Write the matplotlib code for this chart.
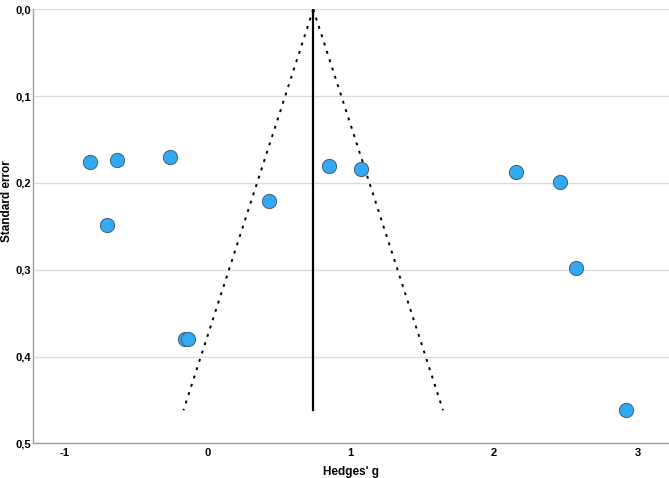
import matplotlib.pyplot as plt
from matplotlib.ticker import FuncFormatter

# study effect sizes (Hedges' g) and their standard errors
hedges_g = [-0.82, -0.63, -0.26, -0.70, -0.155, -0.135, 0.43, 0.846, 1.073,
            2.155, 2.458, 2.569, 2.922]
std_err = [0.176, 0.174, 0.170, 0.249, 0.380, 0.380, 0.221, 0.180, 0.184,
           0.188, 0.199, 0.298, 0.462]

pooled_g = 0.738
se_max = 0.462
x_ticks = [-1, 0, 1, 2, 3]
y_ticks = [0.0, 0.1, 0.2, 0.3, 0.4, 0.5]

plt.rcParams['font.family'] = ['Liberation Sans', 'DejaVu Sans']
plt.rcParams['axes.unicode_minus'] = False

fig = plt.figure(figsize=(6.69, 4.78), dpi=100)
ax = fig.add_axes([0.0498, 0.0726, 0.9502, 0.9079])

# funnel: pooled estimate and 95% pseudo-confidence limits
ax.plot([pooled_g, pooled_g], [0, se_max], color='black', lw=1.6, zorder=2)
ax.plot([pooled_g, pooled_g - 1.96 * se_max], [0, se_max], color='black',
        lw=1.4, linestyle=(0, (1.5, 3)), zorder=2)
ax.plot([pooled_g, pooled_g + 1.96 * se_max], [0, se_max], color='black',
        lw=1.4, linestyle=(0, (1.5, 3)), zorder=2)

ax.scatter(hedges_g, std_err, s=105, color='#33A9F4', edgecolor='#3f5f7a',
           linewidth=0.7, zorder=3)

ax.set_xlim(-1.215, 3.22)
ax.set_ylim(0.5, 0.0)
ax.set_xticks(x_ticks)
ax.set_yticks(y_ticks)
ax.yaxis.set_major_formatter(FuncFormatter(lambda v, p: f"{v:.1f}".replace('.', ',')))

ax.grid(axis='y', color='#dcdcdc', lw=1.0, zorder=0)
ax.set_axisbelow(True)
for side in ['top', 'right']:
    ax.spines[side].set_visible(False)
for side in ['left', 'bottom']:
    ax.spines[side].set_color('#a0a0a0')
    ax.spines[side].set_linewidth(1.0)
ax.tick_params(axis='y', length=0, labelsize=8, pad=1.7)
ax.tick_params(axis='x', length=0, labelsize=8, pad=3.6)
for lbl in ax.get_xticklabels() + ax.get_yticklabels():
    lbl.set_fontweight('bold')

ax.set_xlabel("Hedges' g", fontsize=8.5, fontweight='bold', va='center')
ax.set_ylabel("Standard error", fontsize=8.5, fontweight='bold', va='center')
ax.xaxis.set_label_coords(0.5, -0.0654)
ax.yaxis.set_label_coords(-0.042, 0.557)

fig.savefig('out.png', dpi=100)
